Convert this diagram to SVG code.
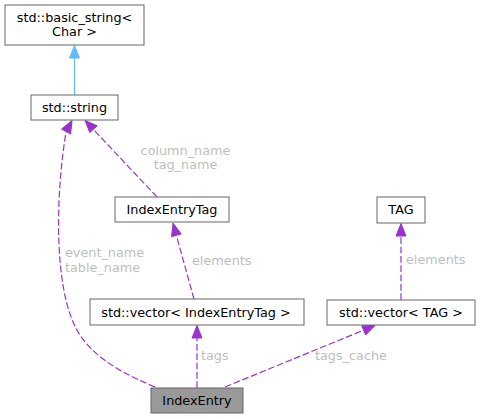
<svg xmlns="http://www.w3.org/2000/svg" width="480" height="419" viewBox="0 0 480 419">
<style>
.box{fill:#ffffff;stroke:#666666;stroke-width:1}
.cur{fill:#999999;stroke:#666666;stroke-width:1}
.t{font-family:"DejaVu Sans",sans-serif;font-size:12.8px;fill:#000000;text-anchor:middle}
.lbl{font-family:"DejaVu Sans",sans-serif;font-size:12.8px;fill:#bebebe}
.e{fill:none;stroke:#9a32cd;stroke-width:1.2;stroke-dasharray:6.67,2.67}
.ah{fill:#9a32cd;stroke:#9a32cd}
.inh{fill:none;stroke:#63b8ff;stroke-width:1.2}
.ahb{fill:#63b8ff;stroke:#63b8ff}
</style>
<rect width="480" height="419" fill="#ffffff"/>
<g id="connectors">
<line class="inh" x1="74.5" y1="95" x2="74.5" y2="58"/>
<polygon class="ahb" points="74.5,45.5 79.5,58 69.5,58"/>
<path class="e" d="M155,387 C116,371 86,352 74,324 C55,283 55,200 66,132"/>
<polygon class="ah" points="72,120.5 70.6,134 61.6,129"/>
<line class="e" x1="157" y1="197" x2="93" y2="129"/>
<polygon class="ah" points="85,120.5 97.2,125.8 89.8,132.6"/>
<line class="e" x1="194" y1="299" x2="176.5" y2="236"/>
<polygon class="ah" points="173,223 181.2,234 171.6,236.6"/>
<line class="e" x1="197" y1="388" x2="197" y2="338"/>
<polygon class="ah" points="197,325.5 202,338 192,338"/>
<line class="e" x1="225" y1="387" x2="364" y2="330"/>
<polygon class="ah" points="375,325.5 365.6,335 361.8,325.8"/>
<line class="e" x1="401" y1="300" x2="401" y2="236"/>
<polygon class="ah" points="401,223.5 406,236 396,236"/>
<text class="lbl" x="185.5" y="155" text-anchor="middle">column_name</text>
<text class="lbl" x="185.5" y="169" text-anchor="middle">tag_name</text>
<text class="lbl" x="65" y="257">event_name</text>
<text class="lbl" x="65" y="272">table_name</text>
<text class="lbl" x="192" y="265">elements</text>
<text class="lbl" x="201" y="360">tags</text>
<text class="lbl" x="315" y="360">tags_cache</text>
<text class="lbl" x="406" y="264">elements</text>
</g>
<g id="node_basic_string">
<rect class="box" x="5" y="5" width="139" height="40"/>
<text class="t" x="74.5" y="22">std::basic_string&lt;</text>
<text class="t" x="74.5" y="36">Char &gt;</text>
</g>
<g id="node_string">
<rect class="box" x="31" y="95" width="87" height="25"/>
<text class="t" x="74.5" y="112">std::string</text>
</g>
<g id="node_IndexEntryTag">
<rect class="box" x="115" y="197" width="114" height="25"/>
<text class="t" x="172" y="214">IndexEntryTag</text>
</g>
<g id="node_vector_IndexEntryTag">
<rect class="box" x="90" y="299" width="214" height="26"/>
<text class="t" x="196" y="316.5">std::vector&lt; IndexEntryTag &gt;</text>
</g>
<g id="node_TAG">
<rect class="box" x="377" y="197" width="48" height="26"/>
<text class="t" x="401" y="214">TAG</text>
</g>
<g id="node_vector_TAG">
<rect class="box" x="327" y="300" width="148" height="25"/>
<text class="t" x="401" y="317">std::vector&lt; TAG &gt;</text>
</g>
<g id="node_IndexEntry">
<rect class="cur" x="151" y="388" width="92" height="25"/>
<text class="t" x="197" y="405">IndexEntry</text>
</g>
</svg>
